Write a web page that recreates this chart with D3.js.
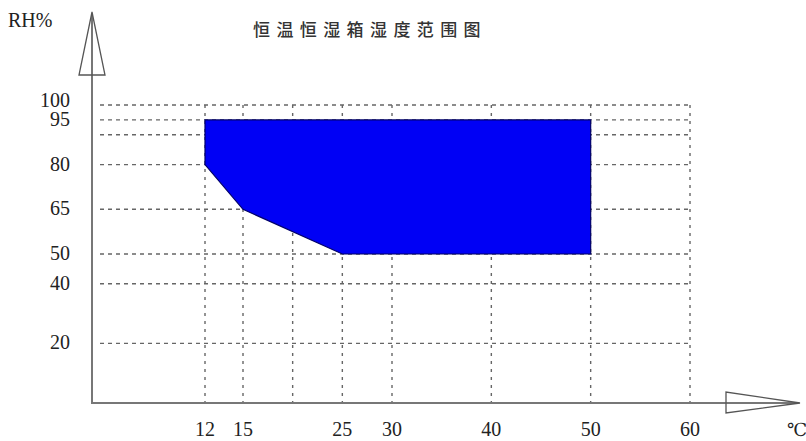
<!DOCTYPE html>
<html>
<head>
<meta charset="utf-8">
<script src="https://cdn.jsdelivr.net/npm/d3@7"></script>
<style>
  html, body { margin: 0; padding: 0; background: #fff; }
  svg { display: block; }
  .num { font-family: "Liberation Serif", "DejaVu Serif", serif; font-size: 20px; fill: #222; }
</style>
</head>
<body>
<svg id="chart" width="806" height="441"></svg>
<script>
// humidity range of the chamber, temperature (°C) vs RH (%)
var rangeTemp = [12, 50, 50, 25, 15, 12];
var rangeRH   = [95, 95, 50, 50, 65, 80];

var xGrid   = [12, 15, 20, 25, 30, 40, 50, 60];
var xLabels = [12, 15, 25, 30, 40, 50, 60];
var yGrid   = [20, 40, 50, 65, 80, 90, 95, 100];
var yLabels = [100, 95, 80, 65, 50, 40, 20];

var title = "恒温恒湿箱湿度范围图";

const svg = d3.select('#chart');

// the original drawing squeezes 12..15 a bit, so piecewise
const x = d3.scaleLinear()
    .domain([0, 12, 15, 60])
    .range([92, 205, 243, 690]);

const y = d3.scaleLinear()
    .domain([0, 100])
    .range([403, 105]);

// grid
svg.append("g")
    .selectAll("line")
    .data(yGrid)
    .join("line")
    .attr("x1", 100).attr("x2", x(60) + 2)
    .attr("y1", d => y(d)).attr("y2", d => y(d))
    .attr("stroke", "#666").attr("stroke-width", 1.4)
    .attr("stroke-dasharray", "4,4");

svg.append("g")
    .selectAll("line")
    .data(xGrid)
    .join("line")
    .attr("x1", d => x(d)).attr("x2", d => x(d))
    .attr("y1", y(100)).attr("y2", y(0))
    .attr("stroke", "#666").attr("stroke-width", 1.4)
    .attr("stroke-dasharray", "3,5");

// the blue region
const pts = rangeTemp.map((t, i) => [x(t), y(rangeRH[i])]);
svg.append("path")
    .attr("d", d3.line()(pts) + "Z")
    .attr("fill", "#0000f5")
    .attr("stroke", "#00006a")
    .attr("stroke-width", 1.2);

// axes with hollow arrows
const axisColor = "#777";
svg.append("line")
    .attr("x1", x(0)).attr("x2", x(0))
    .attr("y1", 14).attr("y2", y(0) + 1)
    .attr("stroke", axisColor).attr("stroke-width", 2);
svg.append("line")
    .attr("x1", x(0) - 1).attr("x2", 798)
    .attr("y1", y(0)).attr("y2", y(0))
    .attr("stroke", axisColor).attr("stroke-width", 2);

svg.append("path")
    .attr("d", `M${x(0)},12 L${x(0) - 13},75 L${x(0) + 13},75 Z`)
    .attr("fill", "none").attr("stroke", "#555").attr("stroke-width", 1.3);
svg.append("path")
    .attr("d", `M800,${y(0)} L726,${y(0) - 11} L726,${y(0) + 10} Z`)
    .attr("fill", "none").attr("stroke", "#555").attr("stroke-width", 1.3);

// tick labels (100 sits a little above its line, as in the original)
svg.append("g")
    .selectAll("text")
    .data(yLabels)
    .join("text")
    .attr("class", "num")
    .attr("x", 70)
    .attr("y", d => y(d) - (d === 100 ? 5 : 1))
    .attr("dy", "0.35em")
    .attr("text-anchor", "end")
    .text(d => d);

svg.append("g")
    .selectAll("text")
    .data(xLabels)
    .join("text")
    .attr("class", "num")
    .attr("x", d => x(d))
    .attr("y", 436)
    .attr("text-anchor", "middle")
    .text(d => d);

svg.append("text")
    .attr("class", "num")
    .attr("x", 8).attr("y", 27)
    .text("RH%");

svg.append("text")
    .attr("class", "num")
    .attr("x", 787).attr("y", 436)
    .style("font-size", "18px")
    .text("℃");

svg.append("text")
    .attr("x", 253).attr("y", 36)
    .attr("font-family", "Noto Sans CJK SC")
    .attr("font-size", 17)
    .attr("font-weight", 500)
    .attr("letter-spacing", 6.4)
    .attr("fill", "#333")
    .text(title);
</script>
</body>
</html>
